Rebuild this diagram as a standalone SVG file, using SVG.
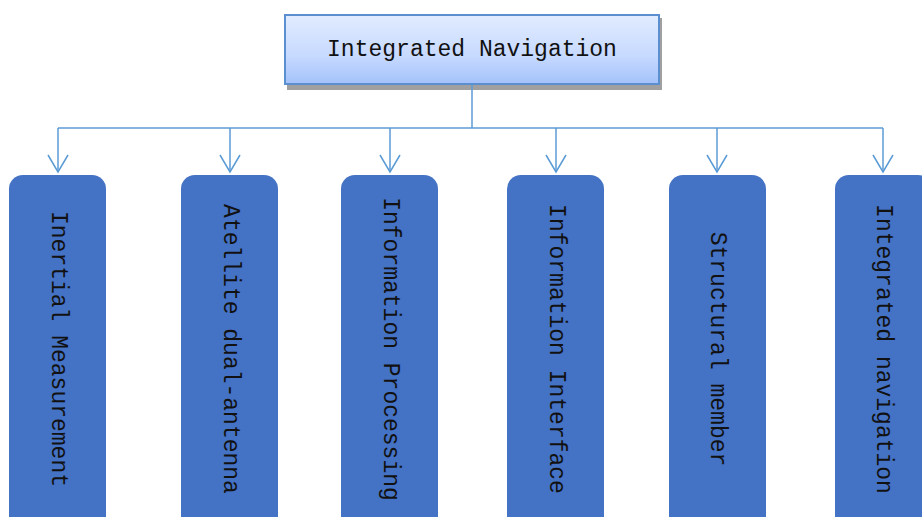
<svg xmlns="http://www.w3.org/2000/svg" width="922" height="517" viewBox="0 0 922 517">
<style>
.lbl{font-family:"Liberation Mono","DejaVu Sans Mono",monospace;font-size:23px;fill:#111}
.box{fill:#4472C4}
.con{stroke:#5B9BD5;stroke-width:1.5;fill:none}
</style>
<defs>
<linearGradient id="g" x1="0" y1="0" x2="0" y2="1">
<stop offset="0" stop-color="#E2ECFF"/>
<stop offset="0.6" stop-color="#C6D9FF"/>
<stop offset="1" stop-color="#A3C2FA"/>
</linearGradient>
<marker id="ah" markerWidth="20" markerHeight="22" viewBox="0 0 18 22" refX="17" refY="11" orient="auto" markerUnits="userSpaceOnUse">
<path d="M0,1 L17,11 L0,21" fill="none" stroke="#5B9BD5" stroke-width="1.5"/>
</marker>
</defs>
<g id="root">
<rect x="287" y="18" width="375" height="72" fill="#A0A0A0"/>
<rect x="285" y="15" width="374" height="69" fill="url(#g)" stroke="#5B8FD0" stroke-width="2"/>
<text class="lbl" x="472" y="56" text-anchor="middle">Integrated Navigation</text>
</g>
<g id="connectors">
<path class="con" d="M472,84 V128"/>
<path class="con" d="M58,128 H883"/>
<path class="con" d="M58,128 V172" marker-end="url(#ah)"/>
<path class="con" d="M230,128 V172" marker-end="url(#ah)"/>
<path class="con" d="M390,128 V172" marker-end="url(#ah)"/>
<path class="con" d="M556,128 V172" marker-end="url(#ah)"/>
<path class="con" d="M717,128 V172" marker-end="url(#ah)"/>
<path class="con" d="M883,128 V172" marker-end="url(#ah)"/>
</g>
<g id="n1"><rect class="box" x="9" y="175" width="97" height="360" rx="14"/><text class="lbl" transform="translate(52,349) rotate(90)" text-anchor="middle">Inertial Measurement</text></g>
<g id="n2"><rect class="box" x="181" y="175" width="97" height="360" rx="14"/><text class="lbl" transform="translate(224,349) rotate(90)" text-anchor="middle">Atellite dual-antenna</text></g>
<g id="n3"><rect class="box" x="341" y="175" width="97" height="360" rx="14"/><text class="lbl" transform="translate(384,349) rotate(90)" text-anchor="middle">Information Processing</text></g>
<g id="n4"><rect class="box" x="507" y="175" width="97" height="360" rx="14"/><text class="lbl" transform="translate(550,349) rotate(90)" text-anchor="middle">Information Interface</text></g>
<g id="n5"><rect class="box" x="669" y="175" width="97" height="360" rx="14"/><text class="lbl" transform="translate(711,349) rotate(90)" text-anchor="middle">Structural member</text></g>
<g id="n6"><rect class="box" x="835" y="175" width="97" height="360" rx="14"/><text class="lbl" transform="translate(877,349) rotate(90)" text-anchor="middle">Integrated navigation</text></g>
</svg>
